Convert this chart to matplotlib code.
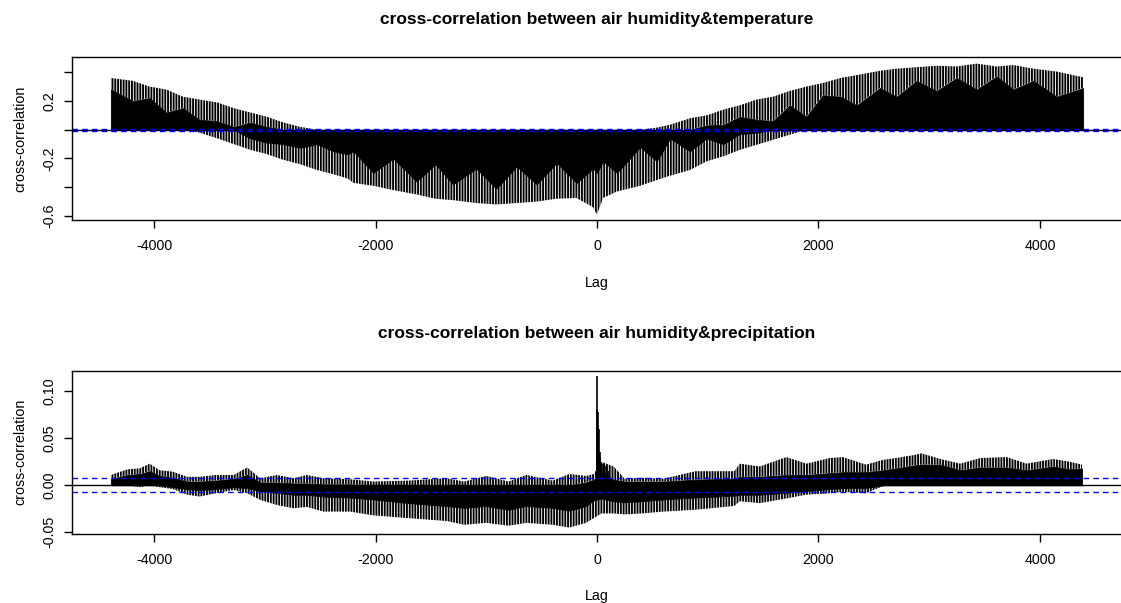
import matplotlib
matplotlib.use('Agg')
import matplotlib.pyplot as plt

plt.rcParams['font.family'] = ['Liberation Sans', 'DejaVu Sans']
plt.rcParams['hatch.linewidth'] = 1.35

# ---------------- data: air humidity & temperature (envelopes)
t_lag = [-4390, -4190, -4040, -3890, -3740, -3590, -3430, -3280, -3130, -2980,
         -2830, -2680, -2530, -2380, -2250, -2200, -2020, -1840, -1630, -1460,
         -1300, -1090, -910, -725, -545, -365, -185, -35, 0, 55,
         180, 390, 540, 660, 840, 990, 1140, 1290, 1440, 1590,
         1740, 1890, 2040, 2200, 2345, 2555, 2706, 2886, 3067, 3248,
         3428, 3609, 3760, 3940, 4150, 4390]
t_upper = [0.36, 0.34, 0.30, 0.28, 0.23, 0.21, 0.19, 0.15, 0.12, 0.09,
           0.05, 0.02, 0.0, 0.0, 0.0, 0.0, 0.0, 0.0, 0.0, 0.0,
           0.0, 0.0, 0.0, 0.0, 0.0, 0.0, 0.0, 0.0, 0.0, 0.0,
           0.0, 0.0, 0.015, 0.035, 0.08, 0.10, 0.14, 0.17, 0.21, 0.23,
           0.27, 0.30, 0.325, 0.36, 0.38, 0.41, 0.425, 0.435, 0.445, 0.44,
           0.46, 0.44, 0.45, 0.425, 0.405, 0.365]
t_solid_hi = [0.28, 0.20, 0.22, 0.12, 0.15, 0.07, 0.06, 0.02, 0.05, 0.02,
              0.0, 0.0, 0.0, 0.0, 0.0, 0.0, 0.0, 0.0, 0.0, 0.0,
              0.0, 0.0, 0.0, 0.0, 0.0, 0.0, 0.0, 0.0, 0.0, 0.0,
              0.0, 0.0, 0.0, 0.0, 0.0, 0.03, 0.035, 0.09, 0.07, 0.06,
              0.17, 0.09, 0.24, 0.23, 0.17, 0.29, 0.23, 0.34, 0.27, 0.36,
              0.28, 0.37, 0.28, 0.34, 0.23, 0.29]
t_solid_lo = [0.0, 0.0, 0.0, 0.0, 0.0, 0.0, 0.0, 0.0, -0.06, -0.09,
              -0.10, -0.125, -0.10, -0.15, -0.17, -0.15, -0.30, -0.20, -0.36, -0.24,
              -0.38, -0.27, -0.41, -0.255, -0.38, -0.23, -0.37, -0.27, -0.30, -0.22,
              -0.30, -0.12, -0.22, -0.06, -0.15, -0.06, -0.10, -0.03, -0.02, 0.0,
              0.0, 0.0, 0.0, 0.0, 0.0, 0.0, 0.0, 0.0, 0.0, 0.0,
              0.0, 0.0, 0.0, 0.0, 0.0, 0.0]
t_lower = [0.0, 0.0, 0.0, 0.0, 0.0, -0.02, -0.06, -0.10, -0.14, -0.17,
           -0.21, -0.24, -0.28, -0.31, -0.34, -0.37, -0.39, -0.42, -0.45, -0.48,
           -0.49, -0.51, -0.52, -0.51, -0.50, -0.48, -0.475, -0.54, -0.59, -0.475,
           -0.43, -0.39, -0.35, -0.32, -0.28, -0.22, -0.185, -0.14, -0.105, -0.07,
           -0.035, 0.0, 0.0, 0.0, 0.0, 0.0, 0.0, 0.0, 0.0, 0.0,
           0.0, 0.0, 0.0, 0.0, 0.0, 0.0]

# ---------------- data: air humidity & precipitation
p_lag = [-4390, -4240, -4130, -4040, -3950, -3830, -3700, -3590, -3440, -3280,
         -3160, -3040, -2890, -2740, -2620, -2470, -2230, -2020, -1700, -1360,
         -1200, -1000, -800, -640, -400, -250, -100, -30, 40, 150,
         250, 400, 600, 890, 1240, 1290, 1470, 1710, 1890, 2100,
         2220, 2430, 2580, 2700, 2855, 2930, 3100, 3280, 3460, 3700,
         3880, 4120, 4270, 4380]
p_upper = [0.011, 0.017, 0.018, 0.023, 0.016, 0.0145, 0.009, 0.009, 0.011, 0.011,
           0.019, 0.0075, 0.011, 0.0075, 0.011, 0.0075, 0.0064, 0.004, 0.005, 0.0075,
           0.004, 0.010, 0.004, 0.011, 0.005, 0.012, 0.010, 0.012, 0.025, 0.020,
           0.007, 0.008, 0.007, 0.015, 0.015, 0.023, 0.020, 0.030, 0.023, 0.029,
           0.030, 0.022, 0.027, 0.029, 0.032, 0.034, 0.028, 0.023, 0.029, 0.030,
           0.023, 0.028, 0.025, 0.022]
p_solid_hi = [0.0064, 0.011, 0.012, 0.015, 0.010, 0.008, 0.004, 0.004, 0.005, 0.007,
              0.011, 0.003, 0.003, 0.002, 0.002, 0.001, 0.001, 0.0, 0.0, 0.0,
              0.0, 0.0, 0.0, 0.0, 0.0, 0.0, 0.003, 0.006, 0.014, 0.006,
              0.004, 0.004, 0.004, 0.006, 0.007, 0.009, 0.009, 0.011, 0.011, 0.013,
              0.014, 0.014, 0.016, 0.018, 0.021, 0.022, 0.022, 0.016, 0.019, 0.019,
              0.016, 0.020, 0.017, 0.018]
p_solid_lo = [0.0, 0.0, 0.0, 0.0, 0.0, -0.002, -0.004, -0.005, -0.004, -0.002,
              -0.003, -0.006, -0.008, -0.010, -0.010, -0.012, -0.013, -0.015, -0.019, -0.022,
              -0.024, -0.022, -0.026, -0.022, -0.024, -0.027, -0.022, -0.016, -0.014, -0.017,
              -0.018, -0.017, -0.015, -0.013, -0.011, -0.010, -0.010, -0.008, -0.006, -0.004,
              -0.003, -0.003, 0.0, 0.0, 0.0, 0.0, 0.0, 0.0, 0.0, 0.0,
              0.0, 0.0, 0.0, 0.0]
p_lower = [0.0, 0.0, -0.002, 0.0, -0.002, -0.004, -0.010, -0.012, -0.0085, -0.005,
           -0.0085, -0.0156, -0.021, -0.0245, -0.023, -0.028, -0.028, -0.032, -0.035, -0.038,
           -0.042, -0.040, -0.043, -0.040, -0.042, -0.045, -0.040, -0.035, -0.030, -0.030,
           -0.031, -0.030, -0.028, -0.026, -0.022, -0.017, -0.019, -0.014, -0.010, -0.0085,
           -0.007, -0.0085, -0.001, 0.0, 0.0, 0.0, 0.0, 0.0, 0.0, 0.0,
           0.0, 0.0, 0.0, 0.0]
# peak near lag 0
spike_lag = [1, 4, 8, 13, 18, 24, 30, 40, 50, 60, 75, 90, 110]
spike_val = [0.116, 0.080, 0.078, 0.063, 0.060, 0.035, 0.030, 0.025, 0.023, 0.020, 0.020, 0.018, 0.015]

ci = 0.0076
titles = ['cross-correlation between air humidity&temperature',
          'cross-correlation between air humidity&precipitation']

W, H = 1121, 603
fig = plt.figure(figsize=(W / 100, H / 100), dpi=100)
ax1 = fig.add_axes([72 / W, 1 - 220 / H, 1050 / W, 163 / H])
ax2 = fig.add_axes([72 / W, 1 - 533.5 / H, 1050 / W, 162.5 / H])

HATCH = '|' * 6


def draw(ax, lag, upper, shi, slo, lower):
    ax.fill_between(lag, shi, upper, facecolor='none', edgecolor='black',
                    hatch=HATCH, linewidth=0)
    ax.fill_between(lag, lower, slo, facecolor='none', edgecolor='black',
                    hatch=HATCH, linewidth=0)
    ax.fill_between(lag, slo, shi, facecolor='black', edgecolor='black',
                    linewidth=0.6)


draw(ax1, t_lag, t_upper, t_solid_hi, t_solid_lo, t_lower)
draw(ax2, p_lag, p_upper, p_solid_hi, p_solid_lo, p_lower)
ax2.vlines(spike_lag, 0, spike_val, color='black', linewidth=1.2)

for ax, title in zip([ax1, ax2], titles):
    ax.axhline(0, color='black', linewidth=1)
    ax.axhline(ci, color='#0000ff', linewidth=1, linestyle=(0, (4, 3)))
    ax.axhline(-ci, color='#0000ff', linewidth=1, linestyle=(0, (4, 3)))
    ax.set_xlim(-4741, 4741)
    ax.set_xticks([-4000, -2000, 0, 2000, 4000])
    ax.set_xticklabels(['-4000', '-2000', '0', '2000', '4000'])
    for s in ax.spines.values():
        s.set_color('black')
        s.set_linewidth(1)
    ax.tick_params(axis='both', direction='out', length=6, width=1,
                   labelsize=10.3, colors='black')
    ax.tick_params(axis='x', pad=8)
    ax.tick_params(axis='y', pad=5, labelrotation=90)
    ax.set_xlabel('Lag', fontsize=10.3, labelpad=16)
    ax.set_ylabel('cross-correlation', fontsize=10.3, labelpad=11)
    ax.set_title(title, fontsize=12.5, fontweight='bold', pad=24)

ax1.set_ylim(-0.628, 0.506)
ax1.set_yticks([-0.6, -0.4, -0.2, 0.0, 0.2, 0.4])
ax1.set_yticklabels(['-0.6', '', '-0.2', '', '0.2', ''])
ax2.set_ylim(-0.0513, 0.1216)
ax2.set_yticks([-0.05, 0.0, 0.05, 0.10])
ax2.set_yticklabels(['-0.05', '0.00', '0.05', '0.10'])
for ax in (ax1, ax2):
    for lab in ax.get_yticklabels():
        lab.set_verticalalignment('center')

fig.savefig('out.png', dpi=100)
